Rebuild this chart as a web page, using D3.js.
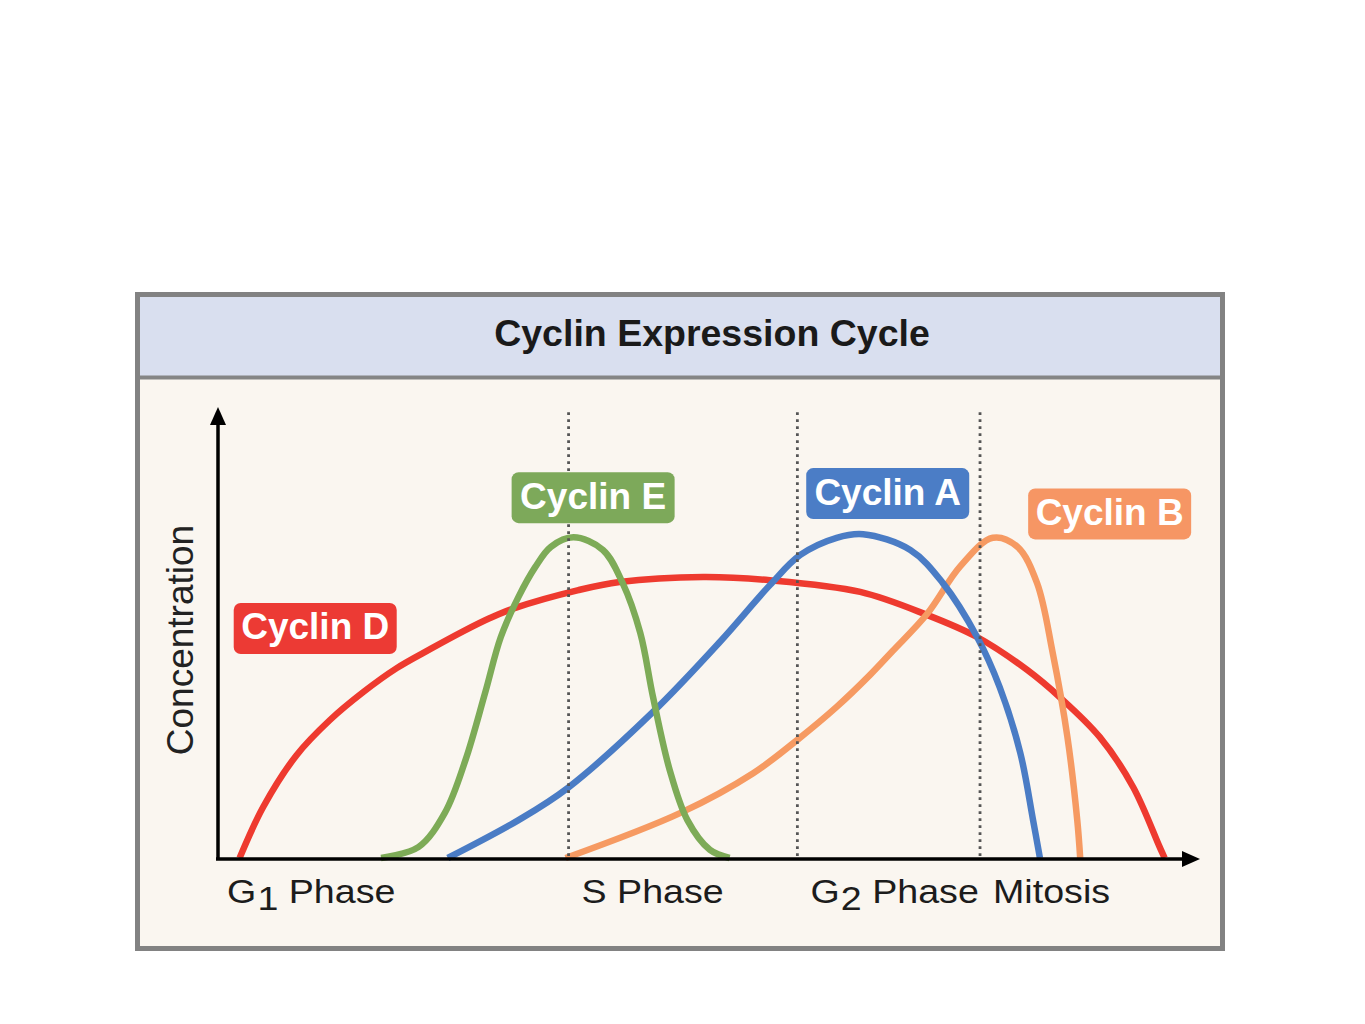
<!DOCTYPE html>
<html>
<head>
<meta charset="utf-8">
<script src="https://cdn.jsdelivr.net/npm/d3@7"></script>
<style>
  html, body { margin: 0; padding: 0; background: #ffffff; }
  svg { display: block; }
  text { font-family: "Liberation Sans", Arial, Helvetica, sans-serif; }
</style>
</head>
<body>
<svg id="chart" width="1365" height="1024"></svg>
<script>
// ---------- DATA (time along the cycle 0-100, concentration 0-100) ----------
const title = "Cyclin Expression Cycle";
const yAxisLabel = "Concentration";

const cyclinNames = ["Cyclin D", "Cyclin E", "Cyclin A", "Cyclin B"];

const cyclinD = [
  [2.2, 0], [4.6, 11.3], [8.0, 22.8], [11.4, 30.6], [14.8, 36.8], [18.2, 42.1],
  [21.6, 46.3], [25.0, 50.3], [27.7, 53.2], [30.2, 55.4], [36.7, 59.4], [40.9, 61.2],
  [49.4, 62.3], [56.2, 61.6], [65.4, 59.0], [72.2, 53.9], [77.3, 49.0], [82.4, 41.7],
  [85.7, 35.7], [89.8, 26.8], [93.2, 15.7], [95.9, 2.4], [96.4, 0]
];
const cyclinE = [
  [16.6, 0], [20.4, 2.4], [23.1, 10.0], [25.2, 21.7], [27.2, 36.6], [28.8, 49.0],
  [30.6, 57.9], [32.3, 64.5], [33.9, 69.0], [36.2, 71.1], [39.2, 68.3], [41.2, 61.0],
  [43.0, 49.9], [44.3, 35.7], [46.0, 19.5], [47.8, 8.4], [50.1, 1.8], [52.1, 0]
];
const cyclinA = [
  [23.4, 0], [30.6, 8.4], [35.6, 15.5], [44.3, 32.4], [51.1, 47.9], [56.2, 60.5],
  [59.3, 67.2], [63.0, 71.0], [65.7, 71.8], [70.5, 68.3], [73.8, 61.0], [77.3, 49.0],
  [79.6, 37.9], [81.7, 23.3], [83.0, 8.4], [83.7, 0]
];
const cyclinB = [
  [35.4, 0], [47.1, 10.0], [54.5, 18.8], [59.0, 26.2], [63.0, 33.5], [66.4, 40.6],
  [68.7, 45.9], [72.2, 54.1], [75.6, 64.7], [78.9, 71.0], [81.4, 69.0], [83.4, 61.0],
  [85.0, 45.5], [86.5, 26.8], [87.5, 8.4], [87.8, 0]
];

// phase boundaries (start of each phase) and their tick labels
const phaseStarts = [0, 35.7, 59.0, 77.6];
const phaseNames = [["G", "1", " Phase"], ["S Phase"], ["G", "2", " Phase"], ["Mitosis"]];

// ---------- LAYOUT / STYLE ----------
const colors = { "Cyclin D": "#ee3a2f", "Cyclin E": "#7dab57", "Cyclin A": "#4a7cc5", "Cyclin B": "#f69a62" };
const boxColors = { "Cyclin D": "#ec3a34", "Cyclin E": "#7da95a", "Cyclin A": "#4b7dc6", "Cyclin B": "#f69664" };
const labelAnchors = { "Cyclin D": [9.9, 50.9], "Cyclin E": [38.2, 79.9], "Cyclin A": [68.2, 80.8], "Cyclin B": [90.8, 76.3] };
const series = { "Cyclin D": cyclinD, "Cyclin E": cyclinE, "Cyclin A": cyclinA, "Cyclin B": cyclinB };

const svg = d3.select("#chart");

// frame
const frame = { x: 137.5, y: 294.5, w: 1085, h: 654 };
const titleBottom = 377.5;

svg.append("rect")
  .attr("x", frame.x).attr("y", frame.y).attr("width", frame.w).attr("height", frame.h)
  .attr("fill", "#faf6f0");
svg.append("rect")
  .attr("x", frame.x).attr("y", frame.y).attr("width", frame.w).attr("height", titleBottom - frame.y)
  .attr("fill", "#d9dfef");
svg.append("line")
  .attr("x1", frame.x).attr("x2", frame.x + frame.w)
  .attr("y1", titleBottom).attr("y2", titleBottom)
  .attr("stroke", "#858585").attr("stroke-width", 4);
svg.append("rect")
  .attr("x", frame.x).attr("y", frame.y).attr("width", frame.w).attr("height", frame.h)
  .attr("fill", "none").attr("stroke", "#828282").attr("stroke-width", 5);

svg.append("text")
  .attr("x", 712).attr("y", 346)
  .attr("text-anchor", "middle")
  .attr("font-size", 37.5).attr("font-weight", "bold").attr("fill", "#1a1a1a")
  .text(title);

// scales
const x = d3.scaleLinear().domain([0, 100]).range([218, 1200]);
const y = d3.scaleLinear().domain([0, 100]).range([858, 407]);

// curves
const line = d3.line()
  .x(d => x(d[0])).y(d => y(d[1]))
  .curve(d3.curveCatmullRom.alpha(0.5));

const drawOrder = ["Cyclin D", "Cyclin B", "Cyclin A", "Cyclin E"];
svg.append("g").selectAll("path")
  .data(drawOrder)
  .join("path")
  .attr("d", k => line(series[k]))
  .attr("fill", "none")
  .attr("stroke", k => colors[k])
  .attr("stroke-width", 6.5)
  .attr("stroke-linecap", "butt")
  .attr("stroke-linejoin", "round");

// axes
const axisG = svg.append("g");
axisG.append("line")
  .attr("x1", x(0)).attr("x2", x(0))
  .attr("y1", y(0) + 1.5).attr("y2", y(100) + 14)
  .attr("stroke", "#000").attr("stroke-width", 3.5);
axisG.append("path")
  .attr("d", `M${x(0)},${y(100)} L${x(0) - 8},${y(100) + 18} L${x(0) + 8},${y(100) + 18} Z`)
  .attr("fill", "#000");
axisG.append("line")
  .attr("x1", x(0) - 2).attr("x2", x(100) - 14)
  .attr("y1", y(0) + 1).attr("y2", y(0) + 1)
  .attr("stroke", "#000").attr("stroke-width", 3.5);
axisG.append("path")
  .attr("d", `M${x(100)},${y(0) + 1} L${x(100) - 18},${y(0) - 7} L${x(100) - 18},${y(0) + 9} Z`)
  .attr("fill", "#000");

// dotted phase boundaries
svg.append("g").selectAll("line")
  .data(phaseStarts.slice(1))
  .join("line")
  .attr("x1", d => x(d)).attr("x2", d => x(d))
  .attr("y1", y(0) - 2).attr("y2", y(100) + 2)
  .attr("stroke", "#555").attr("stroke-width", 2.8)
  .attr("stroke-dasharray", "2.8,4.2");

// phase labels
const phaseG = svg.append("g");
phaseNames.forEach((parts, i) => {
  const g = phaseG.append("g")
    .attr("transform", `translate(${x(phaseStarts[i]) + (i === 0 ? 9 : 13)},903) scale(1.14,1)`);
  const t = g.append("text").attr("font-size", 33).attr("fill", "#1c1c1c");
  if (parts.length === 3) {
    t.append("tspan").text(parts[0]);
    t.append("tspan").attr("dy", 7).attr("dx", 1).text(parts[1]);
    t.append("tspan").attr("dy", -7).text(parts[2]);
  } else {
    t.text(parts[0]);
  }
});

// y axis title
svg.append("text")
  .attr("transform", "translate(193,640) rotate(-90)")
  .attr("text-anchor", "middle")
  .attr("font-size", 37).attr("fill", "#222")
  .text(yAxisLabel);

// cyclin labels
const bw = 163, bh = 51;
const lab = svg.append("g").selectAll("g")
  .data(cyclinNames)
  .join("g")
  .attr("transform", k => `translate(${x(labelAnchors[k][0])},${y(labelAnchors[k][1])})`);
lab.append("rect")
  .attr("x", -bw / 2).attr("y", -bh / 2).attr("width", bw).attr("height", bh)
  .attr("rx", 7).attr("ry", 7)
  .attr("fill", k => boxColors[k]);
lab.append("text")
  .attr("text-anchor", "middle")
  .attr("y", 11)
  .attr("font-size", 37).attr("font-weight", "bold").attr("fill", "#ffffff")
  .text(k => k);
</script>
</body>
</html>
